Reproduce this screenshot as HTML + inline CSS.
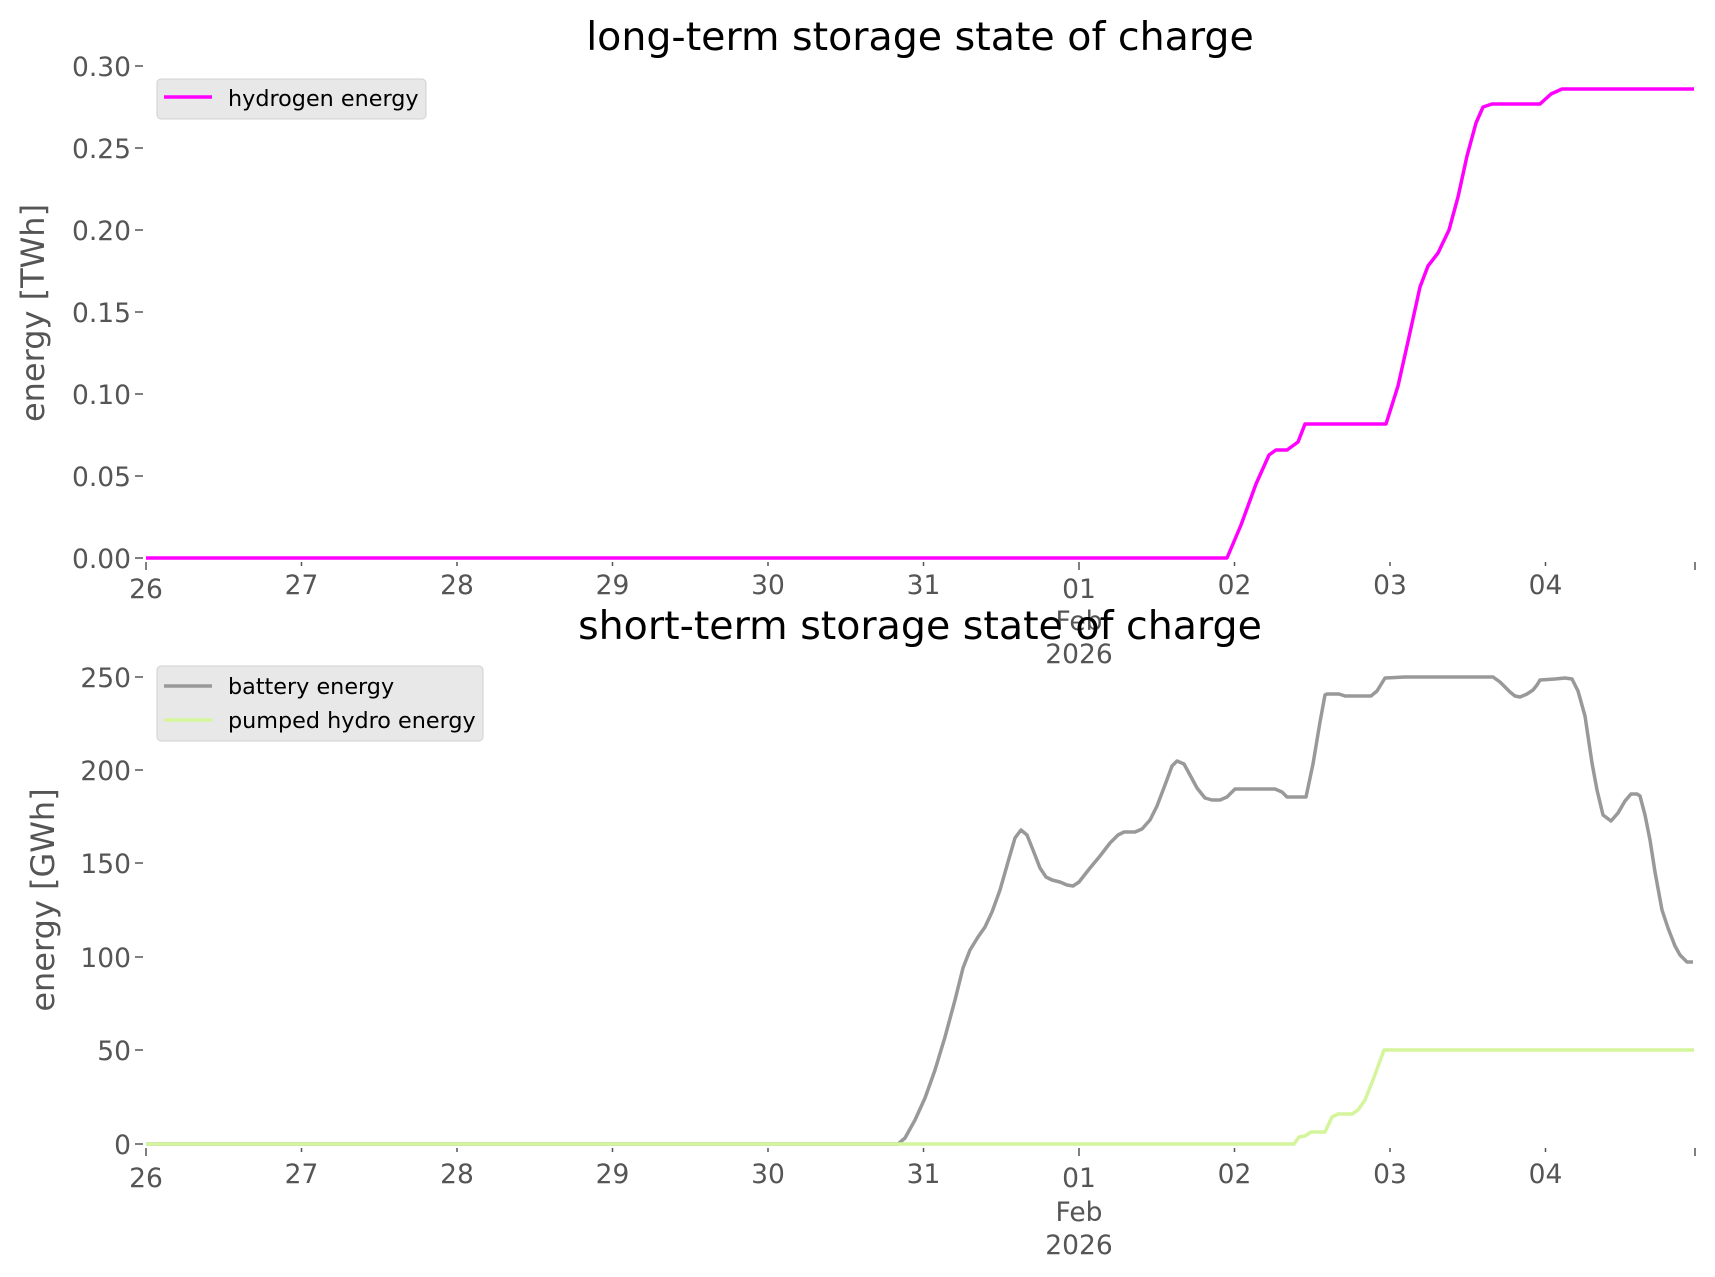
<!DOCTYPE html>
<html><head><meta charset="utf-8"><style>
html,body{margin:0;padding:0;background:#fff;}
svg{display:block;font-family:"DejaVu Sans","Liberation Sans",sans-serif;}
.t{fill:#555;font-size:26.5px;}
.tk{stroke:#555;stroke-width:1.5;}
</style></head><body>
<svg width="1715" height="1277" viewBox="0 0 1715 1277" xmlns="http://www.w3.org/2000/svg">
<rect width="1715" height="1277" fill="#fff"/>
<!-- TOP -->
<text x="920" y="50" font-size="39.5" text-anchor="middle" fill="#000">long-term storage state of charge</text>
<text transform="translate(44,313) rotate(-90)" font-size="32" text-anchor="middle" fill="#555">energy [TWh]</text>
<g class="t" text-anchor="end">
<text x="131" y="76">0.30</text><text x="131" y="158">0.25</text><text x="131" y="240">0.20</text>
<text x="131" y="322">0.15</text><text x="131" y="404">0.10</text><text x="131" y="486">0.05</text><text x="131" y="568">0.00</text>
</g>
<g class="tk">
<line x1="135" x2="143" y1="66" y2="66"/><line x1="135" x2="143" y1="148" y2="148"/><line x1="135" x2="143" y1="230" y2="230"/>
<line x1="135" x2="143" y1="312" y2="312"/><line x1="135" x2="143" y1="394" y2="394"/><line x1="135" x2="143" y1="476" y2="476"/><line x1="135" x2="143" y1="558" y2="558"/>
<line x1="146" x2="146" y1="562" y2="570"/><line x1="301.5" x2="301.5" y1="562" y2="566"/><line x1="457" x2="457" y1="562" y2="566"/><line x1="612.5" x2="612.5" y1="562" y2="566"/><line x1="768" x2="768" y1="562" y2="566"/><line x1="923.5" x2="923.5" y1="562" y2="566"/><line x1="1079" x2="1079" y1="562" y2="570"/><line x1="1234.5" x2="1234.5" y1="562" y2="566"/><line x1="1390" x2="1390" y1="562" y2="566"/><line x1="1545.5" x2="1545.5" y1="562" y2="566"/><line x1="1695" x2="1695" y1="562" y2="570"/>
</g>
<g class="t" text-anchor="middle">
<text x="146" y="598">26</text><text x="301.5" y="594">27</text><text x="457" y="594">28</text><text x="612.5" y="594">29</text><text x="768" y="594">30</text><text x="923.5" y="594">31</text><text x="1079" y="598">01</text><text x="1234.5" y="594">02</text><text x="1390" y="594">03</text><text x="1545.5" y="594">04</text>
<text x="1079" y="630">Feb</text><text x="1079" y="663">2026</text>
</g>
<polyline fill="none" stroke="#ff00ff" stroke-width="3.5" stroke-linejoin="round" points="146,558 1227,558 1241,525 1256,484 1269,455 1276,450 1287,450 1298,442 1305,424 1386,424 1398,386 1409,337 1420,287 1428,266 1438,253 1449,230 1458,197 1467,156 1476,123 1483,107 1492,104 1540,104 1551,94 1562,89 1694,89"/>
<rect x="157" y="79" width="269" height="40" rx="4" fill="#e8e8e8" stroke="#d0d0d0"/>
<line x1="164" x2="212" y1="97" y2="97" stroke="#ff00ff" stroke-width="3.5"/>
<text x="228" y="106" font-size="22.3" fill="#000">hydrogen energy</text>

<!-- BOTTOM -->
<text x="920" y="639" font-size="39.5" text-anchor="middle" fill="#000">short-term storage state of charge</text>
<text transform="translate(54,900) rotate(-90)" font-size="32" text-anchor="middle" fill="#555">energy [GWh]</text>
<g class="t" text-anchor="end">
<text x="131" y="687">250</text><text x="131" y="780">200</text><text x="131" y="873">150</text>
<text x="131" y="967">100</text><text x="131" y="1060">50</text><text x="131" y="1154">0</text>
</g>
<g class="tk">
<line x1="135" x2="143" y1="677" y2="677"/><line x1="135" x2="143" y1="770" y2="770"/><line x1="135" x2="143" y1="863" y2="863"/>
<line x1="135" x2="143" y1="957" y2="957"/><line x1="135" x2="143" y1="1050" y2="1050"/><line x1="135" x2="143" y1="1144" y2="1144"/>
<line x1="146" x2="146" y1="1148" y2="1156"/><line x1="301.5" x2="301.5" y1="1148" y2="1152"/><line x1="457" x2="457" y1="1148" y2="1152"/><line x1="612.5" x2="612.5" y1="1148" y2="1152"/><line x1="768" x2="768" y1="1148" y2="1152"/><line x1="923.5" x2="923.5" y1="1148" y2="1152"/><line x1="1079" x2="1079" y1="1148" y2="1156"/><line x1="1234.5" x2="1234.5" y1="1148" y2="1152"/><line x1="1390" x2="1390" y1="1148" y2="1152"/><line x1="1545.5" x2="1545.5" y1="1148" y2="1152"/><line x1="1695" x2="1695" y1="1148" y2="1156"/>
</g>
<g class="t" text-anchor="middle">
<text x="146" y="1187">26</text><text x="301.5" y="1183">27</text><text x="457" y="1183">28</text><text x="612.5" y="1183">29</text><text x="768" y="1183">30</text><text x="923.5" y="1183">31</text><text x="1079" y="1187">01</text><text x="1234.5" y="1183">02</text><text x="1390" y="1183">03</text><text x="1545.5" y="1183">04</text>
<text x="1079" y="1221">Feb</text><text x="1079" y="1254">2026</text>
</g>
<polyline fill="none" stroke="#999" stroke-width="3.5" stroke-linejoin="round" points="146,1144 898,1144 905,1138 915,1120 925,1098 935,1070 945,1037 955,1000 963,968 970,950 978,937 985,927 992,912 1000,890 1008,862 1015,838 1021,830 1027,835 1033,850 1040,868 1046,877 1052,880 1060,882 1067,885 1073,886 1079,882 1090,868 1100,856 1110,843 1118,835 1124,832 1135,832 1142,829 1150,820 1157,806 1165,785 1172,766 1177,761 1184,764 1190,775 1197,788 1205,798 1212,800 1220,800 1227,797 1235,789 1275,789 1282,792 1287,797 1306,797 1313,764 1320,722 1325,695 1327,694 1339,694 1345,696 1371,696 1377,691 1385,678 1405,677 1493,677 1500,682 1510,692 1515,696 1520,697 1527,694 1533,690 1537,685 1540,680 1555,679 1565,678 1572,679 1578,691 1585,716 1592,763 1597,790 1603,815 1611,821 1618,813 1625,801 1631,794 1637,794 1640,796 1645,815 1650,840 1655,872 1662,910 1668,928 1675,946 1680,955 1687,962 1693,962"/>
<polyline fill="none" stroke="#d4f59c" stroke-width="3.5" stroke-linejoin="round" points="146,1144 1294,1144 1299,1137 1305,1136 1311,1132 1325,1132 1332,1117 1338,1114 1352,1114 1358,1110 1365,1100 1373,1080 1384,1050 1694,1050"/>
<rect x="157" y="666" width="326" height="75" rx="4" fill="#e8e8e8" stroke="#d0d0d0"/>
<line x1="164" x2="212" y1="686" y2="686" stroke="#999" stroke-width="3.5"/>
<text x="228" y="694" font-size="22.3" fill="#000">battery energy</text>
<line x1="164" x2="212" y1="720" y2="720" stroke="#d4f59c" stroke-width="3.5"/>
<text x="228" y="728" font-size="22.3" fill="#000">pumped hydro energy</text>
</svg>
</body></html>
